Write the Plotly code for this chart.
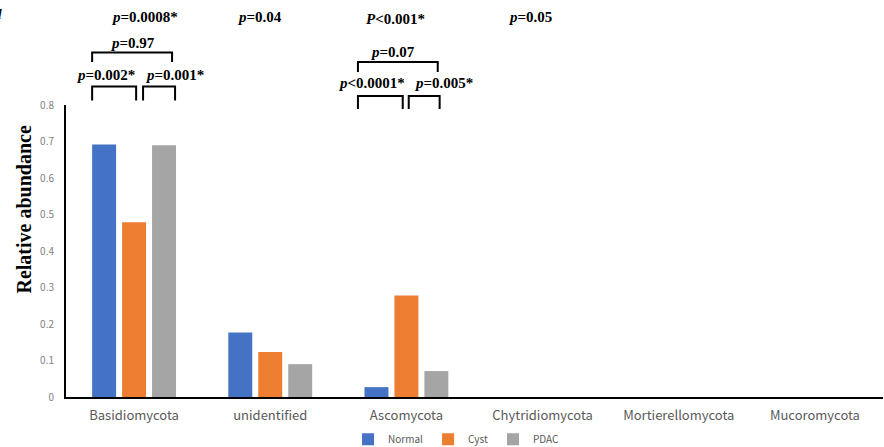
import plotly.graph_objects as go

categories = ["Basidiomycota", "unidentified", "Ascomycota", "Chytridiomycota",
              "Mortierellomycota", "Mucoromycota"]
normal = [0.692, 0.177, 0.027, 0.0, 0.0, 0.0]
cyst = [0.479, 0.123, 0.278, 0.0, 0.0, 0.0]
pdac = [0.690, 0.090, 0.071, 0.0, 0.0, 0.0]
series_names = ["Normal", "Cyst", "PDAC"]
colors = ["#4472C4", "#ED7D31", "#A5A5A5"]

y_ticks = [0, 0.1, 0.2, 0.3, 0.4, 0.5, 0.6, 0.7, 0.8]
y_title = "Relative abundance"

# p-value labels: (category index, offset in category units, paper y, text)
p_labels = [
    (0, 0.08, 1.300, "<i>p</i>=0.0008*"),
    (1, -0.076, 1.300, "<i>p</i>=0.04"),
    (2, -0.08, 1.293, "<i>P</i>&lt;0.001*"),
    (3, -0.095, 1.300, "<i>p</i>=0.05"),
    (0, -0.01, 1.212, "<i>p</i>=0.97"),
    (0, -0.21, 1.103, "<i>p</i>=0.002*"),
    (0, 0.30, 1.103, "<i>p</i>=0.001*"),
    (2, -0.10, 1.182, "<i>p</i>=0.07"),
    (2, -0.255, 1.075, "<i>p</i>&lt;0.0001*"),
    (2, 0.27, 1.075, "<i>p</i>=0.005*"),
]
# brackets: (category index, left offset, right offset, paper y top, paper y bottom)
brackets = [
    (0, -0.308, 0.279, 1.180, 1.147),
    (0, -0.308, 0.015, 1.063, 1.015),
    (0, 0.066, 0.301, 1.063, 1.015),
    (2, -0.356, 0.230, 1.147, 1.113),
    (2, -0.356, -0.027, 1.031, 0.986),
    (2, 0.017, 0.244, 1.031, 0.986),
]

fig = go.Figure()
for name, vals, col in zip(series_names, [normal, cyst, pdac], colors):
    fig.add_trace(go.Bar(x=list(range(len(categories))), y=vals, name=name,
                         marker=dict(color=col, line=dict(width=0))))

serif = "Liberation Serif, Times New Roman, serif"
for ci, off, yp, txt in p_labels:
    fig.add_annotation(x=ci + off, y=yp, xref="x", yref="paper",
                       text="<b>" + txt + "</b>", showarrow=False,
                       font=dict(family=serif, size=15, color="black"),
                       xanchor="center", yanchor="middle")

for ci, x0, x1, yt, yb in brackets:
    fig.add_shape(type="path", xref="x", yref="paper",
                  path=f"M {ci + x0} {yb} L {ci + x0} {yt} L {ci + x1} {yt} L {ci + x1} {yb}",
                  line=dict(color="black", width=2))

# cropped panel label
fig.add_annotation(x=0, y=1.312, xref="paper", yref="paper", text="<b><i>d</i></b>",
                   showarrow=False, xanchor="right", yanchor="middle", xshift=-62,
                   font=dict(family=serif, size=15, color="black"))

# y-axis title (placed off-centre like the reference)
fig.add_annotation(x=0, y=0.642, xref="paper", yref="paper", text="<b>" + y_title + "</b>",
                   showarrow=False, textangle=-90, xanchor="center", yanchor="middle",
                   xshift=-42, font=dict(family=serif, size=20, color="black"))

fig.update_layout(
    width=884, height=447,
    margin=dict(l=66, r=1, t=105, b=50, autoexpand=False),
    plot_bgcolor="white", paper_bgcolor="white",
    barmode="group", bargap=0.34, bargroupgap=0.2,
    legend=dict(orientation="h", x=0.478, xanchor="center", y=-0.145, yanchor="middle",
                font=dict(family="Noto Sans CJK JP, sans-serif", size=10, color="#595959"),
                itemwidth=30, tracegroupgap=0),
    xaxis=dict(tickmode="array", tickvals=list(range(len(categories))), ticktext=categories,
               range=[-0.5, len(categories) - 0.5], automargin=False,
               showline=True, linecolor="black", linewidth=2, showgrid=False, ticks="",
               ticklabelstandoff=5,
               tickfont=dict(family="Noto Sans CJK JP, sans-serif", size=13, color="#595959")),
    yaxis=dict(range=[0, 0.8], tickvals=y_ticks, ticktext=[f"{v:g}" for v in y_ticks],
               automargin=False,
               showline=True, linecolor="black", linewidth=2, showgrid=False, ticks="",
               zeroline=False, ticklabelstandoff=8,
               tickfont=dict(family="Noto Sans CJK JP, sans-serif", size=10, color="#7F7F7F")),
)

fig.write_html("out.html", config={"displayModeBar": False},
               post_script="document.body.style.margin='0';")
